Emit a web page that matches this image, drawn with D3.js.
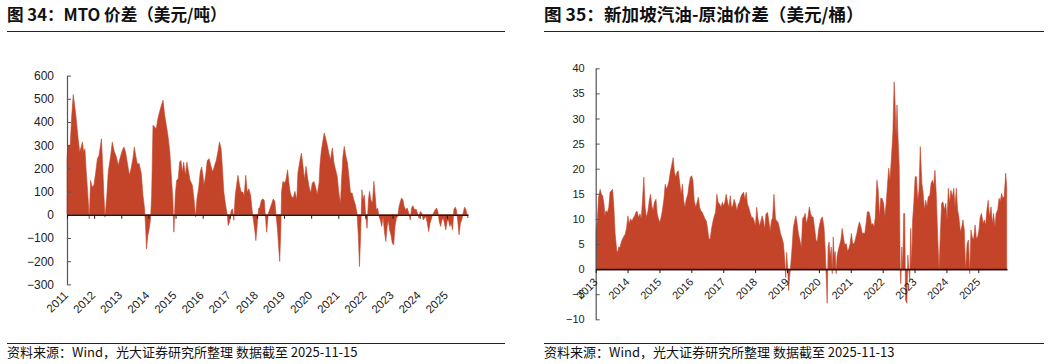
<!DOCTYPE html>
<html><head><meta charset="utf-8">
<script src="https://cdn.jsdelivr.net/npm/d3@7/dist/d3.min.js"></script>
<style>body{margin:0;background:#fff} svg{display:block}</style>
</head><body>
<svg id="c" width="1054" height="364"></svg>
<script>
// ---- Chart 1: MTO spread (USD/t) ----
const mtoYears = [
2011.00,2011.04,2011.12,2011.17,2011.23,2011.32,2011.41,2011.47,2011.57,2011.61,2011.66,2011.71,2011.77,2011.82,2011.87,2011.93,2011.99,
2012.06,2012.12,2012.18,2012.27,2012.31,2012.36,2012.40,2012.46,2012.52,2012.61,2012.67,2012.73,2012.82,2012.89,2012.95,
2013.04,2013.10,2013.16,2013.22,2013.30,2013.36,2013.43,2013.48,2013.53,2013.59,2013.66,2013.74,2013.80,2013.86,2013.90,2013.93,2013.98,
2014.03,2014.08,2014.12,2014.17,2014.23,2014.29,2014.35,2014.41,2014.48,2014.54,2014.60,2014.66,2014.72,2014.79,2014.84,2014.90,2014.94,2014.99,
2015.04,2015.10,2015.15,2015.20,2015.25,2015.30,2015.36,2015.42,2015.48,2015.54,2015.62,2015.68,2015.74,2015.79,2015.85,2015.91,2015.96,
2016.01,2016.05,2016.11,2016.17,2016.24,2016.30,2016.37,2016.44,2016.50,2016.56,2016.62,2016.68,2016.73,2016.78,2016.84,2016.91,2016.94,2016.99,
2017.05,2017.10,2017.15,2017.20,2017.25,2017.30,2017.36,2017.42,2017.48,2017.53,2017.59,2017.64,2017.70,2017.77,2017.83,2017.88,2017.93,2017.96,
2018.01,2018.06,2018.11,2018.16,2018.22,2018.27,2018.32,2018.36,2018.42,2018.49,2018.55,2018.60,2018.66,2018.71,2018.76,2018.80,2018.84,2018.88,2018.91,2018.96,
2019.02,2019.07,2019.13,2019.18,2019.23,2019.28,2019.34,2019.40,2019.47,2019.51,2019.59,2019.64,2019.70,2019.75,2019.81,2019.86,2019.92,2019.98,
2020.04,2020.10,2020.16,2020.22,2020.29,2020.33,2020.38,2020.43,2020.48,2020.53,2020.59,2020.65,2020.71,2020.78,2020.84,2020.90,2020.96,
2021.02,2021.08,2021.12,2021.17,2021.22,2021.28,2021.34,2021.39,2021.45,2021.51,2021.57,2021.63,2021.69,2021.74,2021.78,2021.82,2021.87,2021.91,2021.96,
2022.01,2022.06,2022.11,2022.15,2022.20,2022.26,2022.31,2022.35,2022.40,2022.45,2022.50,2022.55,2022.60,2022.65,2022.70,2022.75,2022.80,2022.84,2022.89,2022.94,2022.99,
2023.04,2023.09,2023.14,2023.19,2023.24,2023.29,2023.33,2023.38,2023.43,2023.48,2023.54,2023.60,2023.65,2023.70,2023.75,2023.81,2023.87,2023.92,2023.97,
2024.02,2024.08,2024.13,2024.18,2024.23,2024.28,2024.33,2024.38,2024.42,2024.47,2024.52,2024.57,2024.62,2024.67,2024.72,2024.77,2024.82,2024.87,2024.91,2024.96,
2025.01,2025.06,2025.11,2025.16,2025.21,2025.26,2025.31,2025.35,2025.40,2025.45,2025.50,2025.55,2025.60,2025.65,2025.70,2025.75,2025.78];
const mtoValues = [
240,300,300,420,518,436,328,270,314,270,285,184,83,-17,148,120,127,
184,242,256,328,227,83,-10,69,184,256,314,278,249,213,242,
278,292,270,227,170,199,242,292,256,220,220,177,83,26,-60,-147,-89,
-60,-17,83,386,378,371,414,443,472,494,429,386,342,270,177,69,-75,83,
148,155,227,234,184,227,170,227,184,148,127,69,-10,69,112,184,206,
170,127,170,234,242,213,184,213,234,270,314,285,199,98,47,-3,-46,-32,
19,26,-24,83,127,170,127,98,98,83,170,98,112,83,12,-32,-75,-111,
-46,26,33,62,69,62,-17,-75,7,29,50,68,58,-7,-65,-137,-201,-65,101,144,
137,151,194,137,94,79,72,101,65,180,237,266,209,151,209,165,122,94,
137,144,122,86,137,223,281,317,353,331,302,266,237,288,223,194,165,
94,50,151,252,295,252,223,165,94,94,65,43,7,-94,-223,-94,108,65,86,
-7,-58,65,101,65,50,144,94,22,29,-7,-22,-50,-7,-72,-115,-50,-22,-65,-86,-122,
-130,-50,-14,-7,36,58,72,65,36,22,29,7,-22,29,39,22,24,7,-14,
14,7,-22,-14,-7,-36,-72,-36,-22,0,10,22,29,14,-29,-50,-22,-14,-36,-65,
-29,-22,-50,-36,-65,24,33,22,-22,-86,-36,-22,7,33,24,0,-14];
const mtoYTicks = [600,500,400,300,200,100,0,-100,-200,-300];
const mtoYearTicks = [2011,2012,2013,2014,2015,2016,2017,2018,2019,2020,2021,2022,2023,2024,2025];

// ---- Chart 2: Singapore gasoline - crude spread (USD/bbl) ----
const gasYears = [
2013.01,2013.05,2013.09,2013.14,2013.18,2013.22,2013.26,2013.29,2013.32,2013.37,2013.41,2013.45,2013.49,2013.53,2013.57,2013.61,2013.66,2013.69,2013.72,2013.76,2013.80,2013.84,2013.89,2013.93,2013.97,
2014.01,2014.05,2014.09,2014.14,2014.18,2014.22,2014.26,2014.30,2014.34,2014.39,2014.43,2014.47,2014.51,2014.55,2014.59,2014.64,2014.68,2014.72,2014.76,2014.80,2014.84,2014.89,2014.93,2014.97,
2015.01,2015.05,2015.09,2015.14,2015.18,2015.22,2015.26,2015.30,2015.34,2015.39,2015.43,2015.47,2015.51,2015.55,2015.59,2015.64,2015.68,2015.72,2015.76,2015.80,2015.84,2015.89,2015.93,2015.97,
2016.01,2016.05,2016.09,2016.14,2016.18,2016.22,2016.26,2016.30,2016.34,2016.39,2016.43,2016.47,2016.51,2016.55,2016.59,2016.64,2016.68,2016.72,2016.76,2016.80,2016.84,2016.89,2016.93,2016.97,
2017.01,2017.05,2017.09,2017.14,2017.18,2017.22,2017.26,2017.30,2017.34,2017.39,2017.43,2017.47,2017.51,2017.55,2017.59,2017.64,2017.68,2017.72,2017.76,2017.80,2017.84,2017.89,2017.93,2017.97,
2018.01,2018.05,2018.09,2018.14,2018.18,2018.22,2018.26,2018.30,2018.34,2018.39,2018.43,2018.47,2018.51,2018.55,2018.59,2018.64,2018.68,2018.72,2018.76,2018.80,2018.84,2018.89,2018.93,2018.96,2018.99,
2019.02,2019.05,2019.08,2019.11,2019.16,2019.20,2019.24,2019.28,2019.32,2019.36,2019.41,2019.45,2019.49,2019.53,2019.57,2019.61,2019.66,2019.70,2019.74,2019.78,2019.82,2019.86,2019.91,2019.95,2019.99,
2020.03,2020.07,2020.11,2020.16,2020.20,2020.23,2020.26,2020.29,2020.32,2020.35,2020.39,2020.42,2020.45,2020.48,2020.51,2020.54,2020.57,2020.61,2020.65,2020.69,2020.73,2020.77,2020.81,2020.86,2020.90,2020.94,2020.98,
2021.02,2021.06,2021.11,2021.15,2021.19,2021.23,2021.27,2021.32,2021.36,2021.40,2021.44,2021.48,2021.52,2021.57,2021.61,2021.65,2021.69,2021.73,2021.77,2021.82,2021.86,2021.90,2021.94,2021.98,
2022.03,2022.07,2022.11,2022.15,2022.19,2022.23,2022.28,2022.32,2022.36,2022.39,2022.42,2022.45,2022.48,2022.52,2022.55,2022.57,2022.60,2022.63,2022.66,2022.69,2022.72,2022.76,2022.79,2022.82,2022.85,2022.88,2022.91,2022.94,2022.97,
2023.02,2023.06,2023.10,2023.14,2023.18,2023.23,2023.27,2023.31,2023.35,2023.39,2023.43,2023.48,2023.52,2023.56,2023.60,2023.64,2023.68,2023.73,2023.77,2023.81,2023.85,2023.89,2023.94,2023.98,
2024.02,2024.06,2024.10,2024.14,2024.19,2024.23,2024.27,2024.31,2024.35,2024.39,2024.44,2024.48,2024.52,2024.56,2024.60,2024.65,2024.69,2024.73,2024.77,2024.81,2024.85,2024.90,2024.94,2024.98,
2025.02,2025.06,2025.10,2025.15,2025.19,2025.23,2025.27,2025.31,2025.35,2025.40,2025.44,2025.48,2025.52,2025.56,2025.61,2025.65,2025.69,2025.73,2025.77,2025.81,2025.86,2025.89];
const gasValues = [
7.6,9.6,14.3,15.9,14.9,14.6,12.9,10.6,11.6,11.3,12.3,15.3,15.6,15.9,12.3,7.0,3.7,3.3,4.4,4.3,5.3,6.0,6.6,7.0,8.3,
10.6,9.0,10.0,9.6,10.2,10.6,11.3,11.5,10.3,11.0,10.0,13.9,18.3,12.3,10.3,11.6,13.6,14.9,12.6,11.6,13.3,13.9,11.0,10.0,
9.3,10.3,11.6,13.9,16.9,15.9,16.6,17.6,19.3,20.9,22.2,19.3,18.3,19.3,19.6,16.9,14.9,16.9,13.6,12.3,13.9,14.9,16.9,18.3,
18.6,17.6,13.6,12.3,13.3,14.3,12.3,11.6,11.3,10.6,10.0,9.6,8.0,6.0,6.0,8.3,9.6,10.6,11.3,14.9,13.3,12.9,12.3,13.3,
12.6,13.3,14.9,13.3,12.3,14.6,12.3,12.6,13.9,12.9,11.6,12.9,13.3,14.3,14.9,15.3,13.9,15.3,12.9,12.3,11.3,10.3,10.3,9.6,
8.6,12.3,10.0,8.6,9.6,10.6,9.6,8.0,11.0,11.3,9.6,7.6,9.6,10.3,14.9,10.0,9.6,9.3,8.3,7.0,6.3,5.0,1.7,-1.7,3.3,
0.3,-4.3,-1.7,0.3,4.3,8.3,9.6,10.6,9.0,7.0,5.6,4.3,10.1,10.4,11.1,9.1,10.4,12.4,11.1,10.4,10.4,8.4,5.8,5.4,7.8,
9.1,10.1,10.4,8.4,3.8,-1.5,-6.8,4.4,5.4,2.5,4.4,-0.9,6.4,2.5,3.5,-0.9,2.5,3.8,4.8,5.8,8.1,6.4,4.8,5.1,3.5,4.1,5.1,
7.1,5.1,5.1,6.1,7.1,8.4,9.4,8.4,7.1,7.2,7.1,9.1,11.4,11.4,10.4,8.8,9.1,8.4,10.4,17.7,15.7,10.4,14.1,14.1,
13.1,10.4,13.1,16.7,20.1,17.7,22.7,27.0,37.3,33.0,26.4,32.7,26.4,20.4,-0.2,-2.9,4.4,-0.2,11.1,11.1,-6.2,-6.8,2.8,-0.2,-2.2,8.1,0.5,9.8,12.4,
18.4,18.4,13.7,15.7,24.4,17.1,15.1,11.8,13.7,12.4,14.4,14.7,17.1,17.7,16.7,19.7,15.1,5.8,-0.2,7.1,13.1,13.4,11.8,13.1,
9.8,16.1,13.1,15.7,14.4,16.1,12.4,16.1,11.8,10.4,7.4,8.4,9.8,7.8,-0.2,5.1,5.8,-0.9,7.8,6.4,5.8,8.8,6.1,6.4,
7.8,10.4,11.1,9.1,9.8,8.8,11.8,13.7,10.4,12.4,9.1,11.1,8.4,11.1,11.8,14.1,13.4,15.1,14.1,14.4,19.1,16.4];
const gasYTicks = [40,35,30,25,20,15,10,5,0,-5,-10];
const gasYearTicks = [2013,2014,2015,2016,2017,2018,2019,2020,2021,2022,2023,2024,2025];

const titles = ["图 34：MTO 价差（美元/吨）", "图 35：新加坡汽油-原油价差（美元/桶）"];
const sources = ["资料来源：Wind，光大证券研究所整理 数据截至 2025-11-15", "资料来源：Wind，光大证券研究所整理 数据截至 2025-11-13"];

const svg = d3.select("#c");
const FILL = "#C4442A";
const TICKFONT = "'Liberation Sans', Arial, sans-serif";
const CJK = "'Noto Sans CJK SC', sans-serif";

function panel(o) {
  const g = svg.append("g");
  g.append("text").attr("x", o.left).attr("y", 21)
    .attr("font-family", CJK).attr("font-weight", "bold").attr("font-size", o.titleSize)
    .attr("fill", "#111").text(o.title);
  g.append("line").attr("x1", o.left).attr("x2", o.right).attr("y1", 31.5).attr("y2", 31.5)
    .attr("stroke", "#222").attr("stroke-width", 1);
  g.append("line").attr("x1", o.left).attr("x2", o.right).attr("y1", 343.5).attr("y2", 343.5)
    .attr("stroke", "#222").attr("stroke-width", 1);
  g.append("text").attr("x", o.left).attr("y", 357)
    .attr("font-family", CJK).attr("font-size", 13).attr("fill", "#111").text(o.source);

  const x = d3.scaleLinear().domain(o.xDomain).range(o.xRange);
  const y = d3.scaleLinear().domain(o.yDomain).range(o.yRange);
  const data = o.years.map((t, i) => [t, o.values[i]]);

  const area = d3.area().x(d => x(d[0])).y0(y(0)).y1(d => y(d[1]));
  g.append("path").datum(data).attr("d", area).attr("fill", FILL)
    .attr("stroke", FILL).attr("stroke-width", 0.6).attr("stroke-linejoin", "round");

  const ya = g.append("g").attr("transform", `translate(${o.xRange[0]},0)`)
    .call(d3.axisLeft(y).tickValues(o.yTicks).tickSizeInner(-4).tickSizeOuter(0).tickPadding(o.yPad));
  ya.select(".domain").attr("stroke", "#555").attr("stroke-width", 1.2);
  ya.selectAll(".tick line").attr("stroke", "#555");
  ya.selectAll("text").attr("font-family", TICKFONT).attr("font-size", o.tickSize).attr("fill", "#222");

  const xa = g.append("g").attr("transform", `translate(0,${y(0)})`)
    .call(d3.axisBottom(x).tickValues(o.yearTicks).tickSizeInner(4).tickSizeOuter(0).tickFormat(""));
  xa.select(".domain").attr("stroke", "#2a1410").attr("stroke-width", 1.6);
  xa.selectAll(".tick line").attr("stroke", "#2a1410");

  g.selectAll("text.yr").data(o.yearTicks).join("text").attr("class", "yr")
    .attr("transform", d => `translate(${x(d) + o.labDx},${o.labY}) rotate(-45)`)
    .attr("text-anchor", "end").attr("dy", "0.35em")
    .attr("font-family", TICKFONT).attr("font-size", o.labSize).attr("fill", "#222")
    .text(d => d);
}

panel({
  left: 7, right: 505, title: titles[0], source: sources[0], titleSize: 16.6,
  years: mtoYears, values: mtoValues,
  xDomain: [2011, 2025.78], xRange: [67, 468],
  yDomain: [-300, 600], yRange: [284.4, 75.6],
  yTicks: mtoYTicks, yearTicks: mtoYearTicks, yPad: 13, tickSize: 12, labSize: 11.5,
  labDx: -1, labY: 293
});
panel({
  left: 544, right: 1044, title: titles[1], source: sources[1], titleSize: 17.6,
  years: gasYears, values: gasValues,
  xDomain: [2013, 2025.9], xRange: [595.7, 1007],
  yDomain: [-10, 40], yRange: [319.3, 68.3],
  yTicks: gasYTicks, yearTicks: gasYearTicks, yPad: 11, tickSize: 11, labSize: 11,
  labDx: 0, labY: 280
});
</script>
</body></html>
